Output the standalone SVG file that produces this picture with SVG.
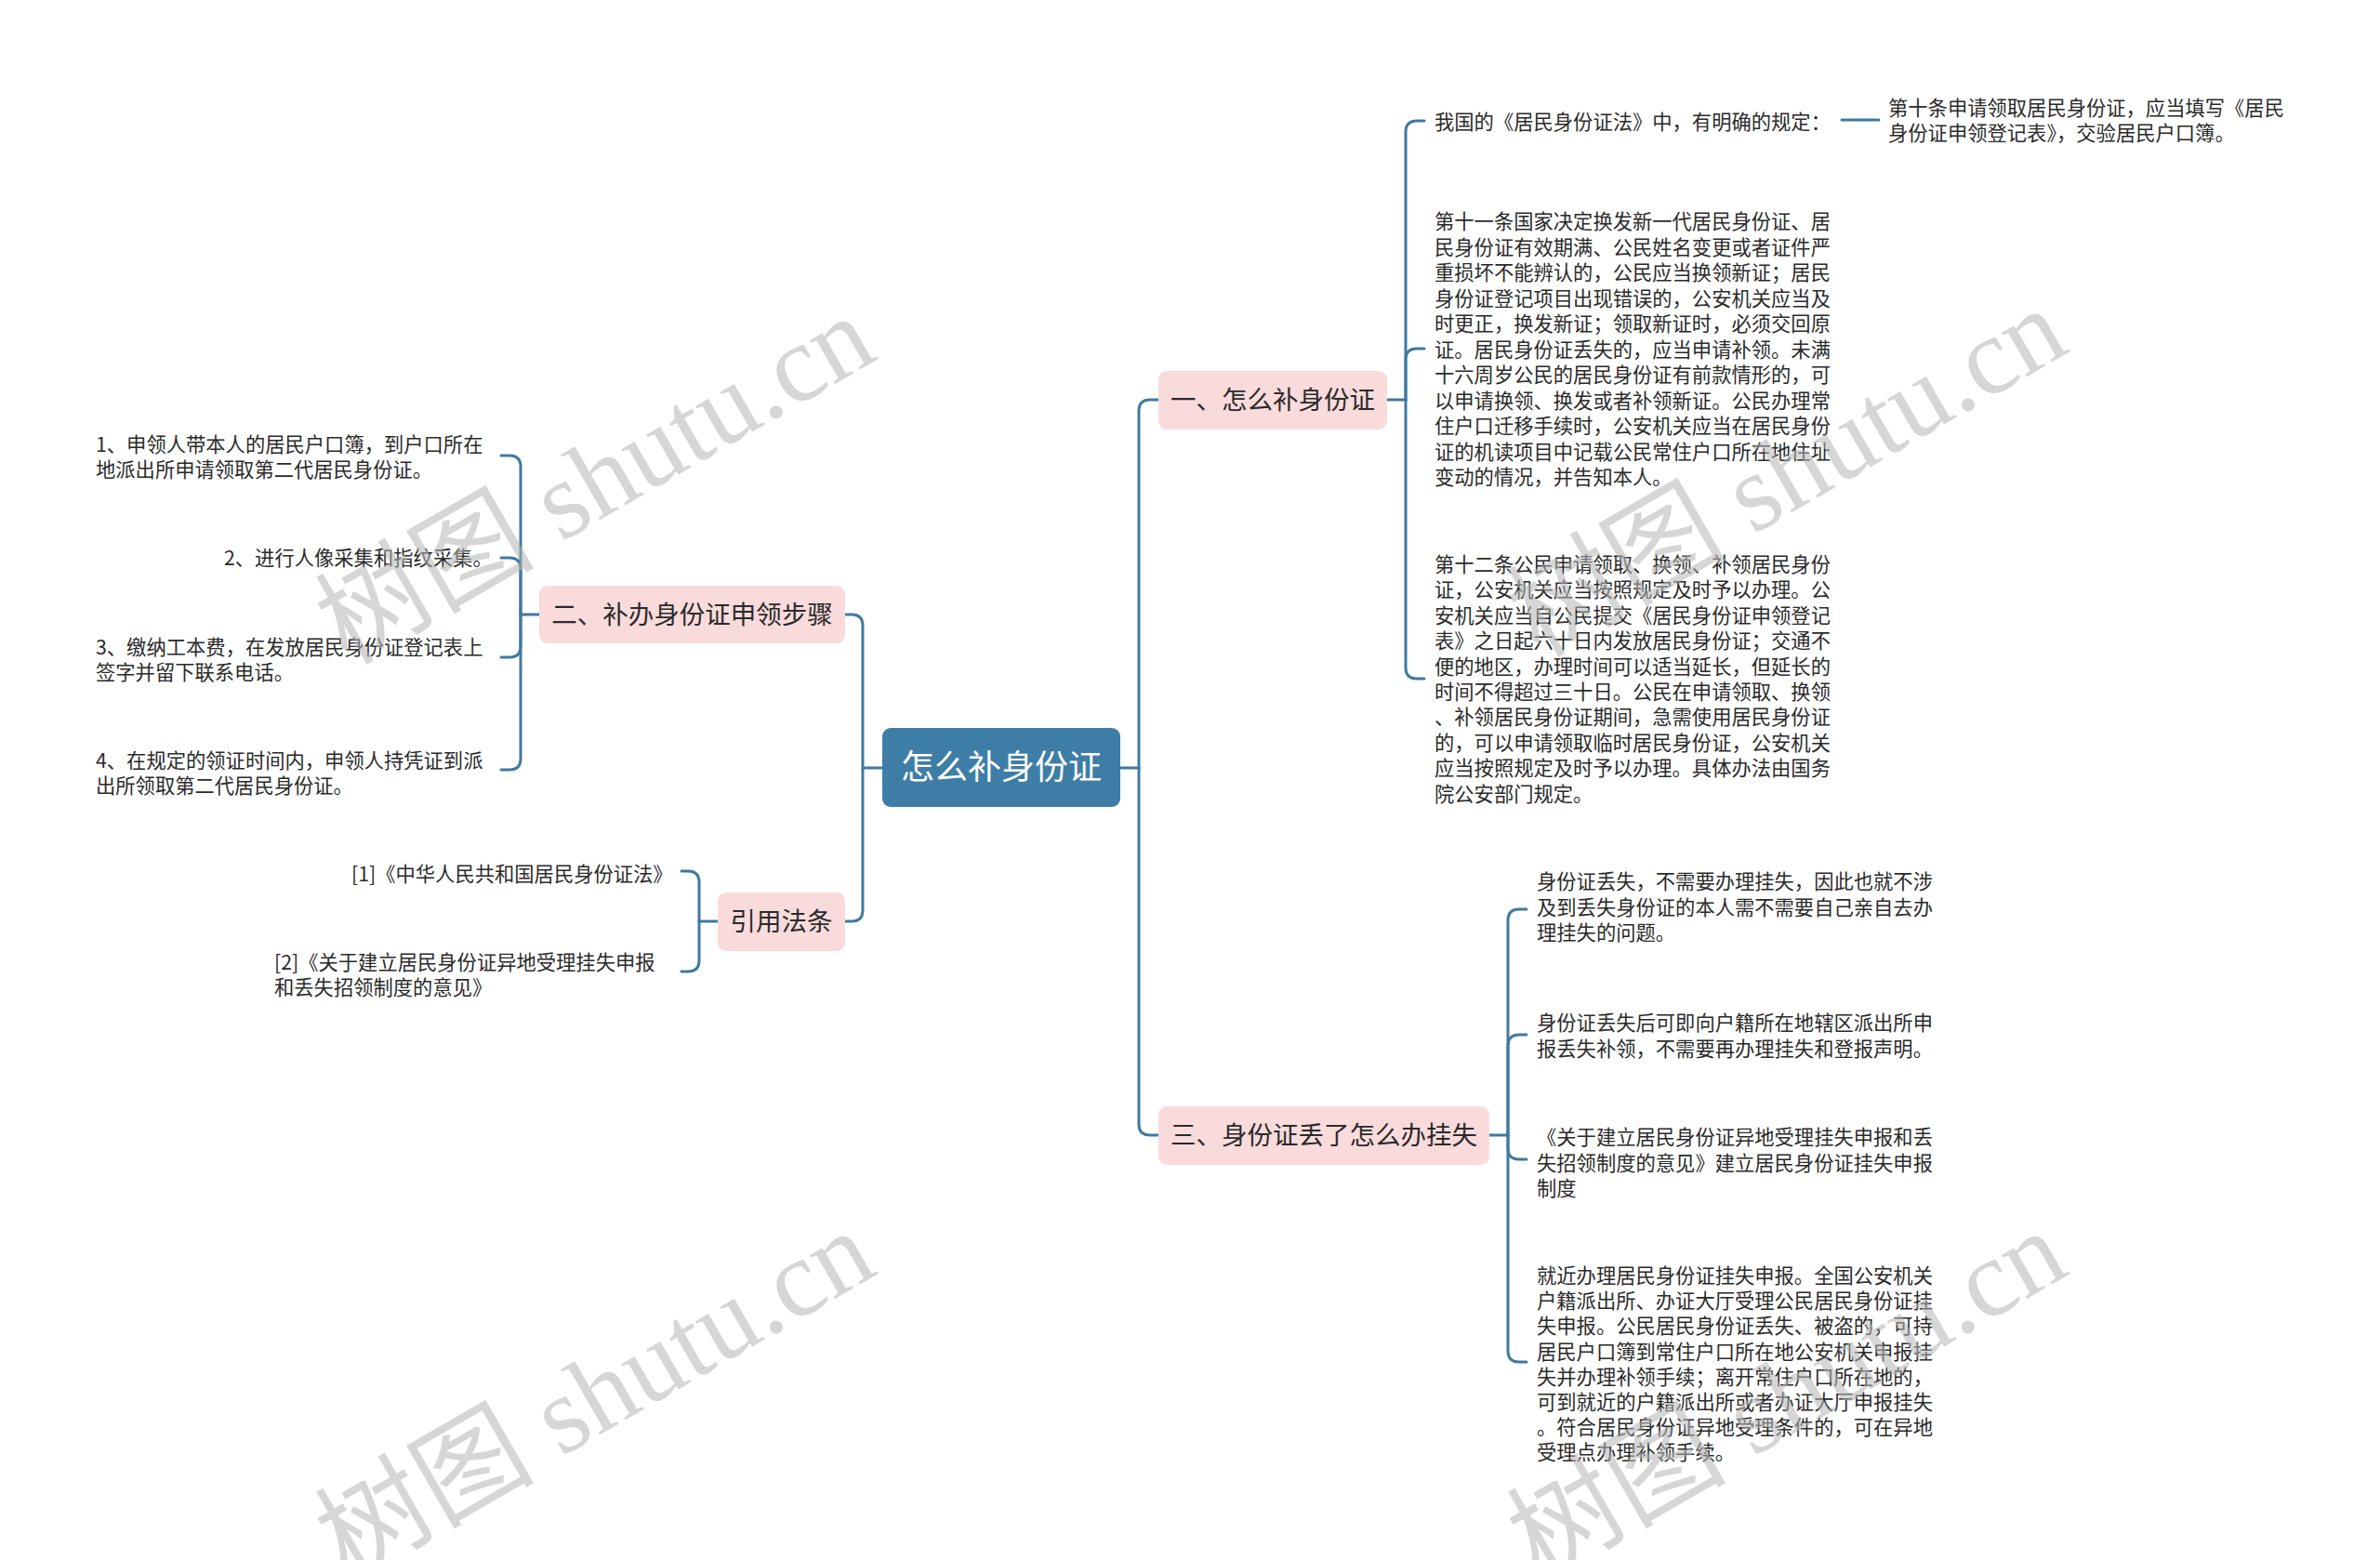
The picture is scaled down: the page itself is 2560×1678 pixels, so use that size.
<svg xmlns="http://www.w3.org/2000/svg" width="2560" height="1678" viewBox="0 0 2560 1678">
<style>
.bg{fill:#ffffff}
.conn{fill:none;stroke:#3f79a0;stroke-width:3;stroke-linecap:round}
.root{fill:#3e7ea6}
.sub{fill:#f9dbdb}
.rt{font-family:"Noto Sans CJK SC","Noto Sans",sans-serif;font-size:36px;fill:#ffffff;text-anchor:middle}
.st{font-family:"Noto Sans CJK SC","Noto Sans",sans-serif;font-size:27.5px;fill:#2a2a2a;text-anchor:middle}
.t{font-family:"Noto Sans CJK SC","Noto Sans",sans-serif;font-size:21.3px;fill:#2a2a2a}
.wm{font-family:"Liberation Serif","Noto Sans CJK SC",serif;font-size:118px;fill:#b4b4b4;fill-opacity:0.55;text-anchor:middle}
</style>
<rect class="bg" x="0" y="0" width="2560" height="1678"/>
<g id="connectors">
<path class="conn" d="M1205,826 H1225 V442 Q1225,430 1237,430 H1246"/>
<path class="conn" d="M1225,826 V1209 Q1225,1221 1237,1221 H1246"/>
<path class="conn" d="M1492,430 H1512 V142 Q1512,130 1524,130 H1532"/>
<path class="conn" d="M1512,430 V387 Q1512,375 1524,375 H1532"/>
<path class="conn" d="M1512,430 V718 Q1512,730 1524,730 H1532"/>
<path class="conn" d="M1981,129 H2021"/>
<path class="conn" d="M1602,1221 H1622 V990 Q1622,978 1634,978 H1642"/>
<path class="conn" d="M1622,1221 V1125 Q1622,1113 1634,1113 H1642"/>
<path class="conn" d="M1622,1221 V1235 Q1622,1247 1634,1247 H1642"/>
<path class="conn" d="M1622,1221 V1453 Q1622,1465 1634,1465 H1642"/>
<path class="conn" d="M949,826 H928 V673 Q928,661 916,661 H909"/>
<path class="conn" d="M928,826 V979 Q928,991 916,991 H909"/>
<path class="conn" d="M580,661 H560 V502 Q560,490 548,490 H539"/>
<path class="conn" d="M560,661 V612 Q560,600 548,600 H539"/>
<path class="conn" d="M560,661 V695 Q560,707 548,707 H539"/>
<path class="conn" d="M560,661 V816 Q560,828 548,828 H539"/>
<path class="conn" d="M772,991 H752 V949 Q752,937 740,937 H733"/>
<path class="conn" d="M752,991 V1033 Q752,1045 740,1045 H733"/>
</g>
<g id="root">
<rect class="root" x="949" y="783" width="256" height="85" rx="9"/>
<text class="rt" x="1077" y="838">怎么补身份证</text>
</g>
<g id="n1">
<rect class="sub" x="1246" y="399" width="246" height="63" rx="9"/>
<text class="st" x="1369" y="440">一、怎么补身份证</text>
</g>
<g id="n2">
<rect class="sub" x="580" y="630" width="329" height="62" rx="9"/>
<text class="st" x="744.5" y="671">二、补办身份证申领步骤</text>
</g>
<g id="n3">
<rect class="sub" x="1246" y="1190" width="356" height="63" rx="9"/>
<text class="st" x="1424" y="1231">三、身份证丢了怎么办挂失</text>
</g>
<g id="n4">
<rect class="sub" x="772" y="960" width="137" height="63" rx="9"/>
<text class="st" x="840.5" y="1001">引用法条</text>
</g>
<g id="c1">
<text class="t" x="1543" y="139">我国的《居民身份证法》中，有明确的规定：</text>
</g>
<g id="c1a">
<text class="t" x="2031" y="124">第十条申请领取居民身份证，应当填写《居民</text>
<text class="t" x="2031" y="151">身份证申领登记表》，交验居民户口簿。</text>
</g>
<g id="c2">
<text class="t" x="1543" y="246">第十一条国家决定换发新一代居民身份证、居</text>
<text class="t" x="1543" y="273.5">民身份证有效期满、公民姓名变更或者证件严</text>
<text class="t" x="1543" y="301">重损坏不能辨认的，公民应当换领新证；居民</text>
<text class="t" x="1543" y="328.5">身份证登记项目出现错误的，公安机关应当及</text>
<text class="t" x="1543" y="356">时更正，换发新证；领取新证时，必须交回原</text>
<text class="t" x="1543" y="383.5">证。居民身份证丢失的，应当申请补领。未满</text>
<text class="t" x="1543" y="411">十六周岁公民的居民身份证有前款情形的，可</text>
<text class="t" x="1543" y="438.5">以申请换领、换发或者补领新证。公民办理常</text>
<text class="t" x="1543" y="466">住户口迁移手续时，公安机关应当在居民身份</text>
<text class="t" x="1543" y="493.5">证的机读项目中记载公民常住户口所在地住址</text>
<text class="t" x="1543" y="521">变动的情况，并告知本人。</text>
</g>
<g id="c3">
<text class="t" x="1543" y="615">第十二条公民申请领取、换领、补领居民身份</text>
<text class="t" x="1543" y="642.4">证，公安机关应当按照规定及时予以办理。公</text>
<text class="t" x="1543" y="669.8">安机关应当自公民提交《居民身份证申领登记</text>
<text class="t" x="1543" y="697.2">表》之日起六十日内发放居民身份证；交通不</text>
<text class="t" x="1543" y="724.6">便的地区，办理时间可以适当延长，但延长的</text>
<text class="t" x="1543" y="752">时间不得超过三十日。公民在申请领取、换领</text>
<text class="t" x="1543" y="779.4">、补领居民身份证期间，急需使用居民身份证</text>
<text class="t" x="1543" y="806.8">的，可以申请领取临时居民身份证，公安机关</text>
<text class="t" x="1543" y="834.2">应当按照规定及时予以办理。具体办法由国务</text>
<text class="t" x="1543" y="861.6">院公安部门规定。</text>
</g>
<g id="d1">
<text class="t" x="1653" y="956">身份证丢失，不需要办理挂失，因此也就不涉</text>
<text class="t" x="1653" y="983.5">及到丢失身份证的本人需不需要自己亲自去办</text>
<text class="t" x="1653" y="1011">理挂失的问题。</text>
</g>
<g id="d2">
<text class="t" x="1653" y="1108">身份证丢失后可即向户籍所在地辖区派出所申</text>
<text class="t" x="1653" y="1135.5">报丢失补领，不需要再办理挂失和登报声明。</text>
</g>
<g id="d3">
<text class="t" x="1653" y="1231">《关于建立居民身份证异地受理挂失申报和丢</text>
<text class="t" x="1653" y="1258.5">失招领制度的意见》建立居民身份证挂失申报</text>
<text class="t" x="1653" y="1286">制度</text>
</g>
<g id="d4">
<text class="t" x="1653" y="1380">就近办理居民身份证挂失申报。全国公安机关</text>
<text class="t" x="1653" y="1407.2">户籍派出所、办证大厅受理公民居民身份证挂</text>
<text class="t" x="1653" y="1434.4">失申报。公民居民身份证丢失、被盗的，可持</text>
<text class="t" x="1653" y="1461.6">居民户口簿到常住户口所在地公安机关申报挂</text>
<text class="t" x="1653" y="1488.8">失并办理补领手续；离开常住户口所在地的，</text>
<text class="t" x="1653" y="1516">可到就近的户籍派出所或者办证大厅申报挂失</text>
<text class="t" x="1653" y="1543.2">。符合居民身份证异地受理条件的，可在异地</text>
<text class="t" x="1653" y="1570.4">受理点办理补领手续。</text>
</g>
<g id="e1">
<text class="t" x="103" y="486">1、申领人带本人的居民户口簿，到户口所在</text>
<text class="t" x="103" y="513">地派出所申请领取第二代居民身份证。</text>
</g>
<g id="e2">
<text class="t" x="241" y="608">2、进行人像采集和指纹采集。</text>
</g>
<g id="e3">
<text class="t" x="103" y="704">3、缴纳工本费，在发放居民身份证登记表上</text>
<text class="t" x="103" y="731">签字并留下联系电话。</text>
</g>
<g id="e4">
<text class="t" x="103" y="826">4、在规定的领证时间内，申领人持凭证到派</text>
<text class="t" x="103" y="853">出所领取第二代居民身份证。</text>
</g>
<g id="f1">
<text class="t" x="378" y="948">[1]《中华人民共和国居民身份证法》</text>
</g>
<g id="f2">
<text class="t" x="295" y="1043">[2]《关于建立居民身份证异地受理挂失申报</text>
<text class="t" x="295" y="1070">和丢失招领制度的意见》</text>
</g>
<g id="watermarks">
<text class="wm" transform="translate(640,516) rotate(-30)" y="40">树图 shutu.cn</text>
<text class="wm" transform="translate(1922,508) rotate(-30)" y="40">树图 shutu.cn</text>
<text class="wm" transform="translate(640,1500) rotate(-30)" y="40">树图 shutu.cn</text>
<text class="wm" transform="translate(1922,1500) rotate(-30)" y="40">树图 shutu.cn</text>
</g>
</svg>
